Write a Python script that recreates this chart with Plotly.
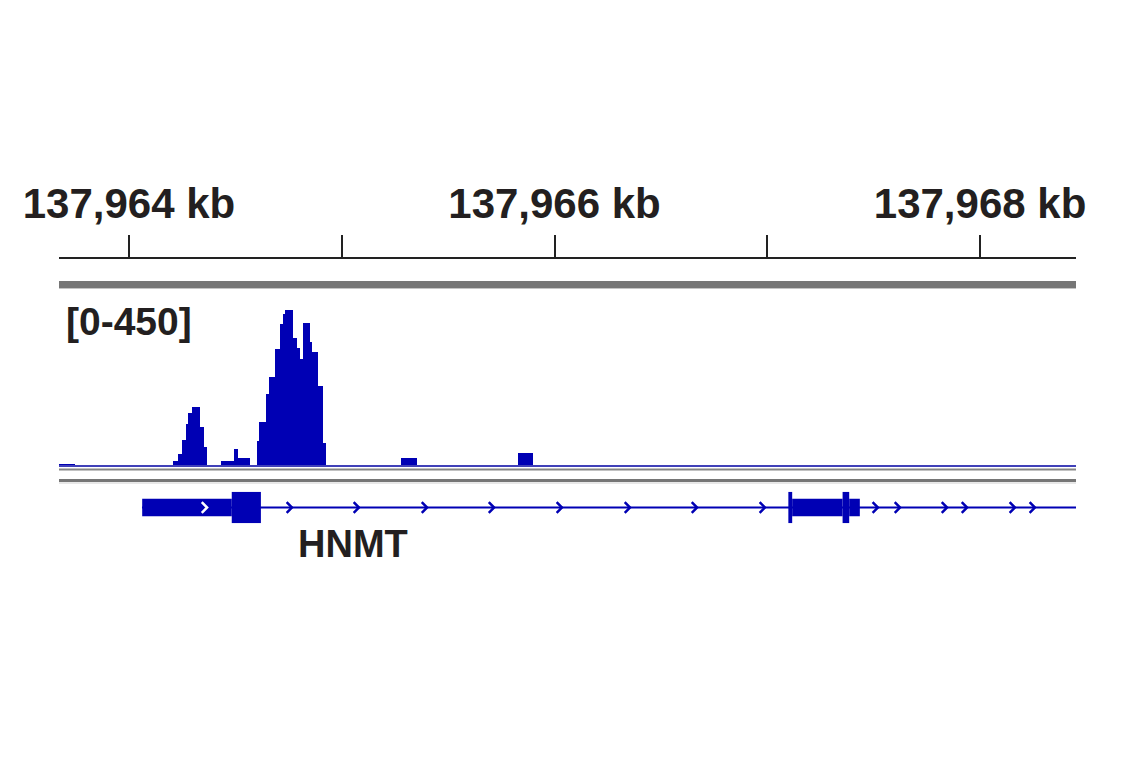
import plotly.graph_objects as go

# ---------------- data ----------------
REGION_START = 137963671
REGION_END = 137968451

tick_positions = [137964000, 137965000, 137966000, 137967000, 137968000]
tick_labels = ["137,964 kb", "", "137,966 kb", "", "137,968 kb"]

# coverage bins (start bp, end bp, value)
bin_starts = [137963666,
              137964208, 137964232, 137964251, 137964266, 137964279, 137964295, 137964335, 137964351,
              137964432, 137964495, 137964511,
              137964600, 137964612, 137964642, 137964658, 137964686, 137964710, 137964725, 137964733,
              137964769, 137964788, 137964804, 137964819, 137964851, 137964859, 137964890, 137964910,
              137965278, 137965827]
bin_ends = [137963746,
            137964232, 137964251, 137964266, 137964279, 137964295, 137964335, 137964351, 137964367,
            137964495, 137964511, 137964569,
            137964612, 137964642, 137964658, 137964686, 137964710, 137964725, 137964733, 137964769,
            137964788, 137964804, 137964819, 137964851, 137964859, 137964890, 137964910, 137964926,
            137965352, 137965900]
bin_values = [4,
              14, 31, 67, 108, 136, 153, 101, 50,
              14, 44, 21,
              65, 113, 185, 231, 303, 367, 393, 403,
              332, 306, 276, 369, 321, 294, 207, 60,
              20, 33]
data_range = [0, 450]
range_label = "[0-450]"

# gene model HNMT
gene_name = "HNMT"
gene_start = 137964061
gene_end = 137968600
feature_starts = [137964062, 137964483, 137967099, 137967117, 137967354, 137967385]
feature_ends = [137964483, 137964620, 137967117, 137967354, 137967385, 137967435]
feature_kind = ["utr", "cds", "cds", "utr", "cds", "utr"]
chevrons = [137964367, 137964766, 137965081, 137965401, 137965716, 137966035, 137966355,
            137966670, 137966989, 137967520, 137967624, 137967845, 137967939, 137968164,
            137968258]

# ---------------- styling ----------------
W, H = 1133, 760          # page body adds an 8 px margin
OFF = 8
BLUE = "#0000b4"
TXT = "#231f20"
FONT = "Liberation Sans, Arial, sans-serif"


def py(p):
    """page pixel row -> paper fraction (margins t=b=0)"""
    return 1 - (p - OFF) / H


fig = go.Figure()

# coverage bars
centers = [(s + e) / 2 for s, e in zip(bin_starts, bin_ends)]
widths = [(e - s) for s, e in zip(bin_starts, bin_ends)]
fig.add_trace(go.Bar(x=centers, y=bin_values, width=widths,
                     marker=dict(color=BLUE, line=dict(width=0)),
                     xaxis="x", yaxis="y", hoverinfo="skip", showlegend=False))

# gene: intron line
fig.add_trace(go.Scatter(x=[gene_start, gene_end], y=[0, 0], mode="lines",
                         line=dict(color=BLUE, width=2), xaxis="x", yaxis="y2",
                         hoverinfo="skip", showlegend=False))

# gene: exon blocks
for s, e, k in zip(feature_starts, feature_ends, feature_kind):
    h = 1.0 if k == "cds" else 0.55
    fig.add_trace(go.Scatter(x=[s, e, e, s, s], y=[-h, -h, h, h, -h], mode="lines",
                             fill="toself", fillcolor=BLUE, line=dict(color=BLUE, width=0),
                             xaxis="x", yaxis="y2", hoverinfo="skip", showlegend=False))

# gene: strand chevrons
cw = 25  # bp half-width of chevron
ch = 0.34
for c in chevrons:
    inside = any(s <= c <= e for s, e in zip(feature_starts, feature_ends))
    col = "white" if inside else BLUE
    fig.add_trace(go.Scatter(x=[c - cw, c, c - cw], y=[ch, 0, -ch], mode="lines",
                             line=dict(color=col, width=2.5), xaxis="x", yaxis="y2",
                             hoverinfo="skip", showlegend=False))

shapes = []
# thick gray separator under ruler
shapes.append(dict(type="rect", xref="paper", yref="paper", x0=0, x1=1,
                   y0=py(288), y1=py(281), fillcolor="#767676", line=dict(width=0), layer="below"))
shapes.append(dict(type="line", xref="paper", yref="paper", x0=0, x1=1,
                   y0=py(288.5), y1=py(288.5), line=dict(color="#c4c4c4", width=1)))
# baseline of coverage track
shapes.append(dict(type="line", xref="paper", yref="paper", x0=0, x1=1,
                   y0=py(466), y1=py(466), line=dict(color="#4040b8", width=2)))
shapes.append(dict(type="line", xref="paper", yref="paper", x0=0, x1=1,
                   y0=py(469.5), y1=py(469.5), line=dict(color="#858585", width=2)))
shapes.append(dict(type="line", xref="paper", yref="paper", x0=0, x1=1,
                   y0=py(480.5), y1=py(480.5), line=dict(color="#767676", width=3)))
shapes.append(dict(type="line", xref="paper", yref="paper", x0=0, x1=1,
                   y0=py(483), y1=py(483), line=dict(color="#d0d0d0", width=1)))

annotations = [
    dict(text=range_label, xref="paper", yref="paper", x=(64 - 59) / 1017, y=py(321),
         xanchor="left", yanchor="middle", showarrow=False,
         font=dict(family=FONT, size=39, color=TXT, weight="bold")),
    dict(text=gene_name, xref="x", yref="paper", x=137965053, y=py(544),
         xanchor="center", yanchor="middle", showarrow=False,
         font=dict(family=FONT, size=38, color=TXT, weight="bold")),
]

fig.update_layout(
    width=W, height=H,
    margin=dict(l=59 - OFF, r=65, t=0, b=0),
    paper_bgcolor="white", plot_bgcolor="white",
    bargap=0, shapes=shapes, annotations=annotations,
    xaxis=dict(range=[REGION_START, REGION_END], anchor="free", position=py(258),
               side="top", showgrid=False, zeroline=False,
               showline=True, linecolor="#222222", linewidth=2,
               ticks="outside", ticklen=22, tickwidth=2, tickcolor="#222222",
               tickvals=tick_positions, ticktext=tick_labels, ticklabeloverflow="allow",
               tickfont=dict(family=FONT, size=42, color=TXT, weight="bold")),
    yaxis=dict(domain=[py(466), py(292)], range=data_range, visible=False, fixedrange=True),
    yaxis2=dict(domain=[py(523.3), py(491.7)], range=[-1, 1], visible=False, fixedrange=True),
)

fig.write_html("out.html")
